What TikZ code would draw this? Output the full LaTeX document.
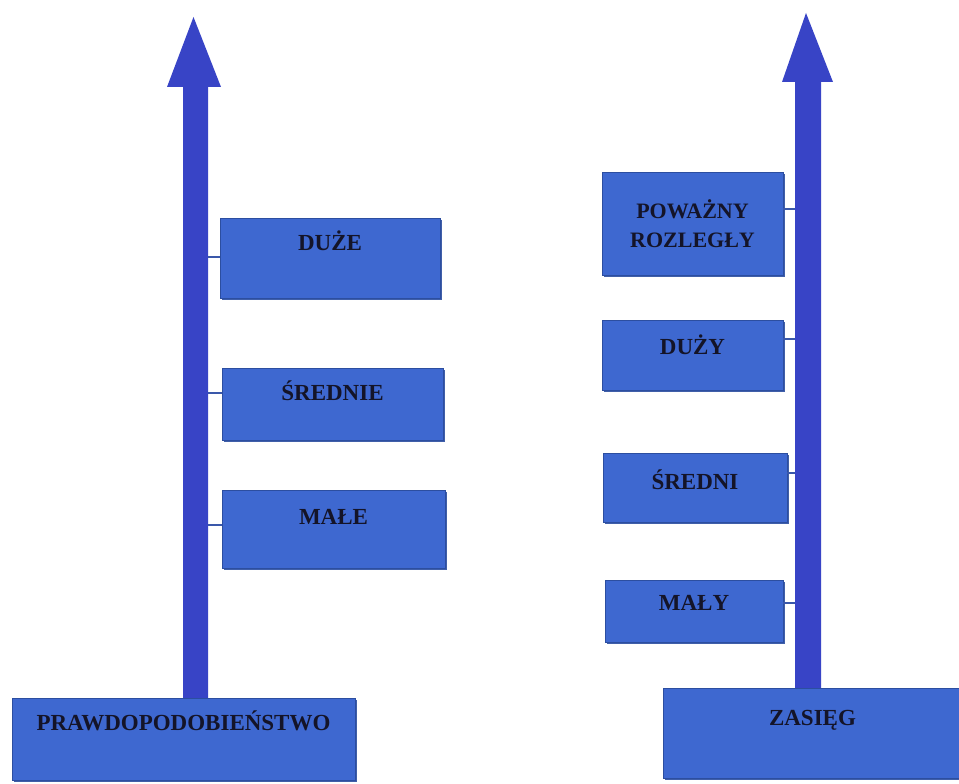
\documentclass[tikz,border=0pt]{standalone}
\usepackage{fontspec}
\setmainfont{Liberation Serif}
\definecolor{boxblue}{RGB}{62,104,208}
\definecolor{boxedge}{RGB}{44,78,160}
\definecolor{arrowblue}{RGB}{56,68,198}
\definecolor{tickcol}{RGB}{58,88,170}
\definecolor{inkcol}{RGB}{20,20,40}
\usetikzlibrary{shadows}
\tikzset{
  bx/.style={fill=boxblue, draw=boxedge, line width=0.8pt, inner sep=0pt,
    font=\fontsize{23}{27}\selectfont\bfseries, text=inkcol,
    text height=15pt, text depth=#1,
    drop shadow={shadow xshift=1.5pt, shadow yshift=-2pt, fill=boxedge, opacity=0.9}},
  bx/.default=20pt,
  axisarrow/.style={fill=arrowblue, draw=none},
  tick/.style={draw=tickcol, line width=2pt}
}
\begin{document}
\begin{tikzpicture}[x=1pt,y=-1pt]
\useasboundingbox (0,0) rectangle (959,784);
\fill[white] (0,0) rectangle (959,784);
% left axis
\fill[axisarrow] (183,700) -- (183,87) -- (167,87) -- (193.5,17) -- (221,87) -- (208,87) -- (208,700) -- cycle;
% right axis
\fill[axisarrow] (795,695) -- (795,82) -- (782,82) -- (806,13) -- (833,82) -- (821,82) -- (821,695) -- cycle;
\coordinate (Lshaft) at (208,0);
\coordinate (Rshaft) at (795,0);
% left boxes
\node[bx=31pt, minimum width=220pt, minimum height=80pt] (duze) at (330,258) {DUŻE};
\node[bx=23pt, minimum width=221pt, minimum height=72pt] (srednie) at (332.5,404) {ŚREDNIE};
\node[bx=25pt, minimum width=223pt, minimum height=78pt] (male) at (333.5,529) {MAŁE};
\node[bx=33pt, minimum width=343pt, minimum height=82pt] (prawd) at (183.5,739) {PRAWDOPODOBIEŃSTWO};
% right boxes
\node[bx, align=center, minimum width=181pt, minimum height=103pt, text height=, text depth=, yshift=10pt, font=\fontsize{22}{29}\selectfont\bfseries] (powazny) at (692.5,233.5) {POWAŻNY\\ROZLEGŁY};
\node[bx=17pt, minimum width=181pt, minimum height=70pt] (duzy) at (692.5,355) {DUŻY};
\node[bx=11pt, minimum width=184pt, minimum height=69pt] (sredni) at (695,487.5) {ŚREDNI};
\node[bx=17pt, minimum width=178pt, minimum height=62pt] (maly) at (694,611) {MAŁY};
\node[bx=31pt, minimum width=299pt, minimum height=90pt] (zasieg) at (812.5,733) {ZASIĘG};
% ticks
\draw[tick] ([yshift=1pt]duze.west) -- ([yshift=1pt]duze.west -| Lshaft);
\draw[tick] ([yshift=11pt]srednie.west) -- ([yshift=11pt]srednie.west -| Lshaft);
\draw[tick] ([yshift=4pt]male.west) -- ([yshift=4pt]male.west -| Lshaft);
\draw[tick] ([yshift=15pt]powazny.east) -- ([yshift=15pt]powazny.east -| Rshaft);
\draw[tick] ([yshift=16pt]duzy.east) -- ([yshift=16pt]duzy.east -| Rshaft);
\draw[tick] ([yshift=15pt]sredni.east) -- ([yshift=15pt]sredni.east -| Rshaft);
\draw[tick] ([yshift=8pt]maly.east) -- ([yshift=8pt]maly.east -| Rshaft);
\end{tikzpicture}
\end{document}
